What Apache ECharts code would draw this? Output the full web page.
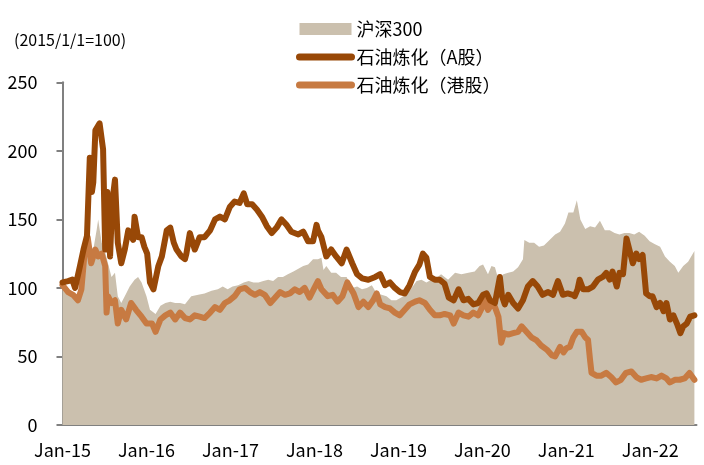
<!DOCTYPE html>
<html>
<head>
<meta charset="utf-8">
<script src="https://cdn.jsdelivr.net/npm/echarts@6/dist/echarts.min.js"></script>
<style>html,body{margin:0;padding:0;background:#fff}#c{width:704px;height:465px}</style>
</head>
<body>
<div id="c"></div>
<script>
// time values are months since 2015-01-01
const seriesNames = ['沪深300', '石油炼化（A股）', '石油炼化（港股）'];
const xTickLabels = ['Jan-15','Jan-16','Jan-17','Jan-18','Jan-19','Jan-20','Jan-21','Jan-22'];
const yTicks = [0, 50, 100, 150, 200, 250];

const csiT = [0,0.8,1.8,2.5,3.0,3.5,3.9,4.4,4.9,5.1,5.6,6.1,6.5,7.0,7.5,7.9,8.4,9.1,9.6,10.3,10.8,11.3,12.0,12.5,13.3,14.0,14.7,15.4,16.1,16.8,17.5,18.4,19.4,20.3,21.3,22.2,22.9,23.6,24.3,25.1,25.9,26.6,27.3,28.0,28.7,29.4,30.1,30.8,31.5,32.2,33.0,33.7,34.4,35.1,35.8,36.5,37.0,37.3,37.7,38.4,39.1,39.8,40.6,41.4,42.1,42.8,43.5,44.2,44.9,45.6,46.3,47.0,47.7,48.4,49.2,49.9,50.6,51.3,52.0,52.7,53.4,54.1,55.1,56.1,57.0,58.0,58.9,59.6,60.1,60.8,61.3,61.8,62.3,63.0,63.7,64.4,65.1,65.8,66.0,66.7,67.4,68.1,68.8,69.6,70.4,71.1,71.8,72.3,73.0,73.5,74.0,74.7,75.4,76.1,76.8,77.5,78.2,78.9,79.6,80.3,81.0,81.7,82.4,83.2,83.9,84.6,85.4,86.1,86.8,87.5,88.0,88.7,89.4,90.3];
const csiV = [100,95,94,99,116,123,133,128,143,150,133,126,118,108,111,94,89,96,101,106,108,104,94,84,81,87,89,90,89,89,88,94,95,96,98,99,101,99,101,102,104,105,104,104,105,106,105,108,108,110,112,114,116,117,121,121,122,113,116,111,111,108,108,100,101,99,100,102,96,95,94,91,91,93,96,100,105,106,104,106,107,110,106,111,110,111,112,116,117,110,116,115,106,110,111,112,115,121,135,133,133,130,131,135,139,141,147,155,155,164,150,143,145,144,149,142,142,140,139,140,140,139,141,138,134,132,130,123,119,116,111,116,119,127];

const aT = [0,0.8,1.4,1.8,2.5,3.0,3.5,3.9,4.2,4.4,4.7,5.3,5.8,6.1,6.4,6.8,7.1,7.5,7.9,8.4,8.9,9.4,10.1,10.3,10.8,11.3,11.7,12.1,12.5,13.0,13.7,14.2,14.9,15.4,15.9,16.3,17.0,17.5,17.7,18.2,18.6,18.9,19.6,20.3,21.1,21.8,22.5,23.2,23.9,24.6,25.3,25.9,26.4,27.1,27.8,28.5,29.2,29.9,30.6,31.3,32.0,32.7,33.7,34.4,35.1,35.8,36.3,36.5,37.0,37.7,38.4,39.1,39.9,40.6,41.4,42.1,42.8,43.7,44.7,45.4,46.1,46.8,47.5,48.2,48.9,49.6,50.4,51.0,51.5,52.0,52.5,53.2,53.9,54.6,55.2,55.9,56.6,57.3,58.0,58.7,59.4,60.1,60.6,61.1,61.8,62.5,62.8,63.2,63.7,64.4,65.1,65.8,66.5,67.2,67.9,68.6,69.4,70.1,70.8,71.5,72.2,72.9,73.2,73.6,73.9,74.4,75.1,75.8,76.5,77.2,77.7,78.2,78.6,79.2,79.6,80.1,80.6,81.0,81.5,82.0,82.4,82.9,83.4,83.9,84.3,84.9,85.4,85.9,86.3,86.8,87.3,87.8,88.3,88.7,89.2,89.7,90.3];
const aV = [104,105,106,100,116,128,138,195,170,177,215,220,201,128,170,123,162,179,133,118,128,142,135,152,137,137,130,125,104,99,116,123,142,144,133,128,123,121,125,140,133,128,137,137,142,150,152,150,159,163,162,169,161,161,157,152,145,140,144,150,146,141,139,141,134,134,146,142,137,123,128,123,118,128,118,110,107,106,108,110,102,104,100,97,96,102,112,117,125,122,108,106,106,103,93,91,99,91,92,88,89,95,96,91,89,108,94,88,95,89,85,91,101,105,101,95,97,95,105,95,96,95,94,99,106,99,99,101,106,108,111,106,112,101,111,110,136,128,118,125,121,124,96,94,94,86,89,83,89,77,80,74,67,72,74,79,80];

const hT = [0,0.8,1.5,2.2,2.7,3.2,3.6,3.8,4.1,4.7,5.1,5.6,6.1,6.3,6.5,7.0,7.5,7.9,8.4,9.1,9.8,10.5,11.3,12.0,12.8,13.3,14.0,14.7,15.4,16.1,16.8,17.5,18.2,18.9,19.6,20.3,21.1,21.8,22.5,23.2,23.9,24.6,25.3,26.1,26.8,27.5,28.2,28.9,29.7,30.4,31.1,31.8,32.5,33.2,33.9,34.6,35.3,36.0,36.5,37.0,37.9,38.6,39.3,40.0,40.7,41.6,42.3,43.0,43.7,44.4,44.9,45.4,46.1,46.8,47.5,48.2,48.9,49.6,50.4,51.0,51.8,52.5,53.2,53.9,54.6,55.4,55.9,56.6,57.3,58.0,58.7,59.4,59.9,60.4,60.8,61.3,61.8,62.3,62.7,63.1,63.7,64.4,65.1,65.6,66.3,67.0,67.7,68.4,69.2,69.9,70.4,71.1,71.6,72.0,72.5,73.0,73.5,74.2,74.7,75.1,75.4,75.6,76.3,77.0,77.7,78.4,79.1,79.8,80.5,81.3,82.0,82.7,83.4,84.1,84.9,85.6,86.3,86.8,87.5,88.2,88.9,89.6,90.3];
const hV = [102,97,95,91,99,128,137,138,118,128,123,125,116,82,94,89,91,74,84,77,89,84,79,74,74,68,77,80,82,77,82,78,77,80,79,78,82,86,84,89,91,94,99,100,97,95,97,95,89,93,97,95,96,99,97,100,93,100,105,99,94,95,90,94,104,96,86,90,86,91,96,88,86,85,82,80,84,88,90,91,89,84,80,80,81,80,74,82,80,79,82,80,85,91,84,88,86,79,60,67,66,67,68,72,68,64,62,58,55,51,50,57,53,56,57,64,68,68,64,62,47,38,36,36,38,35,31,33,38,39,35,33,34,35,34,36,34,31,33,33,34,38,33];

const toYear = m => 2015 + m / 12;
const pairs = (t, v) => t.map((m, i) => [toYear(m), v[i]]);

const FONT = '"Noto Sans CJK SC", "Noto Sans", sans-serif';
const areaColor = '#CBC0AE';
const aColor = '#984807';
const hColor = '#C77A42';

const chart = echarts.init(document.getElementById('c'));
chart.setOption({
  animation: false,
  backgroundColor: '#fff',
  title: {
    text: '(2015/1/1=100)',
    left: 9, top: 27,
    textStyle: { fontSize: 16, fontWeight: 'normal', color: '#000', fontFamily: FONT }
  },
  legend: {
    orient: 'vertical',
    left: 291, top: 15,
    itemWidth: 52, itemHeight: 12, itemGap: 10,
    textStyle: { fontSize: 18, color: '#000', fontFamily: FONT },
    lineStyle: { width: 7, cap: 'round' },
    data: [
      { name: seriesNames[0], icon: 'rect', itemStyle: { color: areaColor, borderWidth: 0 } },
      { name: seriesNames[1], itemStyle: { opacity: 0 } },
      { name: seriesNames[2], itemStyle: { opacity: 0 } }
    ]
  },
  grid: { left: 62.5, right: 7.5, top: 82.3, bottom: 40, containLabel: false },
  xAxis: {
    type: 'value',
    min: 2015, max: 2015 + 90.6 / 12, interval: 1,
    axisLine: { show: true, lineStyle: { color: '#808080', width: 2 } },
    axisTick: { show: false },
    splitLine: { show: false },
    axisLabel: {
      fontSize: 18, color: '#000', fontFamily: FONT, margin: 16,
      showMaxLabel: false,
      formatter: v => xTickLabels[Math.round(v) - 2015] || ''
    }
  },
  yAxis: {
    type: 'value',
    min: yTicks[0], max: yTicks[yTicks.length - 1], interval: 50,
    axisLine: { show: true, lineStyle: { color: '#808080', width: 2 } },
    axisTick: { show: true, length: 6, lineStyle: { color: '#808080', width: 2 } },
    splitLine: { show: false },
    axisLabel: { fontSize: 18, color: '#000', fontFamily: FONT, margin: 25 }
  },
  series: [
    {
      name: seriesNames[0], type: 'line', data: pairs(csiT, csiV),
      symbol: 'none', showSymbol: false,
      lineStyle: { width: 0, color: areaColor },
      itemStyle: { color: areaColor },
      areaStyle: { color: areaColor, opacity: 1 },
      z: 1
    },
    {
      name: seriesNames[1], type: 'line', data: pairs(aT, aV),
      symbol: 'none', showSymbol: false,
      lineStyle: { width: 6, color: aColor, cap: 'round', join: 'round' },
      itemStyle: { color: aColor },
      z: 3
    },
    {
      name: seriesNames[2], type: 'line', data: pairs(hT, hV),
      symbol: 'none', showSymbol: false,
      lineStyle: { width: 6, color: hColor, cap: 'round', join: 'round' },
      itemStyle: { color: hColor },
      z: 2
    }
  ]
});
</script>
</body>
</html>
